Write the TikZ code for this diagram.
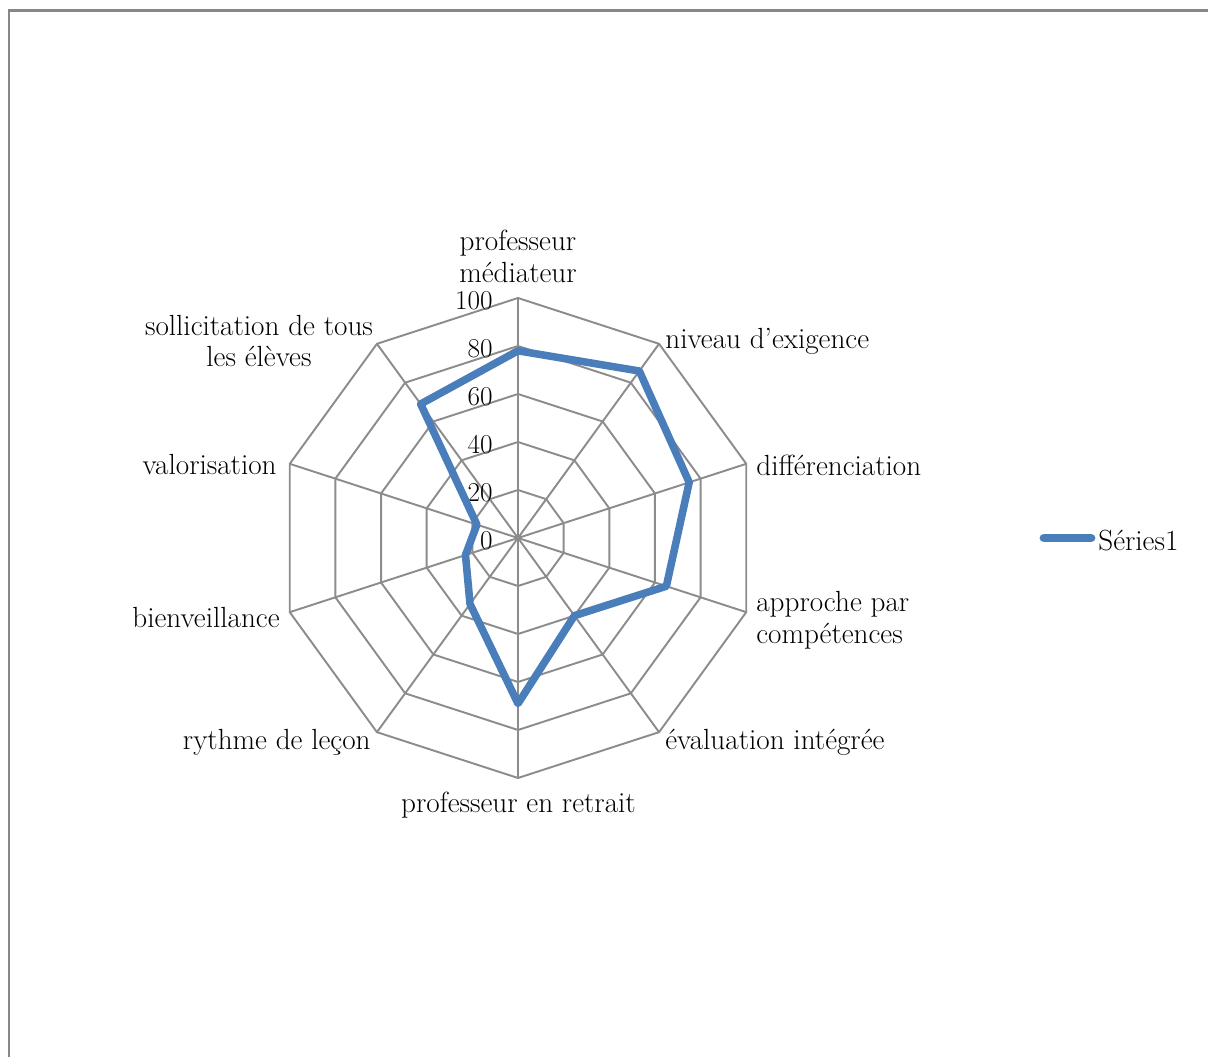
\documentclass[tikz,border=0pt]{standalone}
\usepackage{fontspec}
\definecolor{serieblue}{HTML}{4A7EBB}
\tikzset{
  gridline/.style={line width=1.1pt, color=black!45},
  frameline/.style={line width=1.7pt, color=black!47},
  serie/.style={line width=4.3pt, color=serieblue, line join=round},
  legline/.style={line width=5pt, color=serieblue, line cap=round},
  lbl/.style={inner sep=0pt, font=\fontsize{16.6}{18.14}\selectfont},
  ticklbl/.style={inner sep=0pt, font=\fontsize{15.5}{18.14}\selectfont},
}
\begin{document}
\begin{tikzpicture}[x=0.02cm, y=0.02cm]
      \def\R{240}

      \useasboundingbox (-518,-519) rectangle (690,538);

      % frame
      \draw[frameline] (700,527) -| (-509,-530);

      % grid
      \foreach \r in {48,96,...,240}
      \draw[gridline] (90:\r) \foreach \i in {1,...,9} { -- (90-36*\i:\r) } -- cycle;
      \foreach \i in {0,...,9}
      \draw[gridline] (0,0) -- (90-36*\i:\R);

      % scale
      \foreach \t in {0,20,...,100}
      \node[ticklbl, anchor=east] (t\t) at (-25,2.4*\t-3) {\t};

      % the series
      \foreach \v [count=\i from 0] in {78,86,75,65,40,69,34,23,18,69}
      \coordinate (d\i) at (90-36*\i:2.4*\v);
      \draw[serie] (d0) -- (d1) -- (d2) -- (d3) -- (d4) -- (d5) -- (d6) -- (d7) -- (d8) -- (d9) -- cycle;

      % labels
      \node[lbl, align=center] (mediateur) at (0,282) {professeur\\médiateur};
      \node[lbl, anchor=west] (exigence) at (147,197) {niveau d'exigence};
      \node[lbl, anchor=west] (differ) at (238,73) {différenciation};
      \node[lbl, anchor=west, align=left] (approche) at (238,-82) {approche par\\compétences};
      \node[lbl, anchor=west] (evaluation) at (147,-204) {évaluation intégrée};
      \node[lbl] (retrait) at (0.5,-267) {professeur en retrait};
      \node[lbl, anchor=east] (rythme) at (-147,-204) {rythme de leçon};
      \node[lbl, anchor=east] (bienv) at (-238,-80) {bienveillance};
      \node[lbl, anchor=east] (valor) at (-241,73) {valorisation};
      \node[lbl, align=center] (sollic) at (-259,197) {sollicitation de tous\\les élèves};

      % legend
      \coordinate (leg a) at (526,0);
      \coordinate (leg b) at (573,0);
      \draw[legline] (leg a) -- (leg b);
      \node[lbl, anchor=west] (serie1) at (580,-3) {Séries1};
    \end{tikzpicture}
\end{document}
